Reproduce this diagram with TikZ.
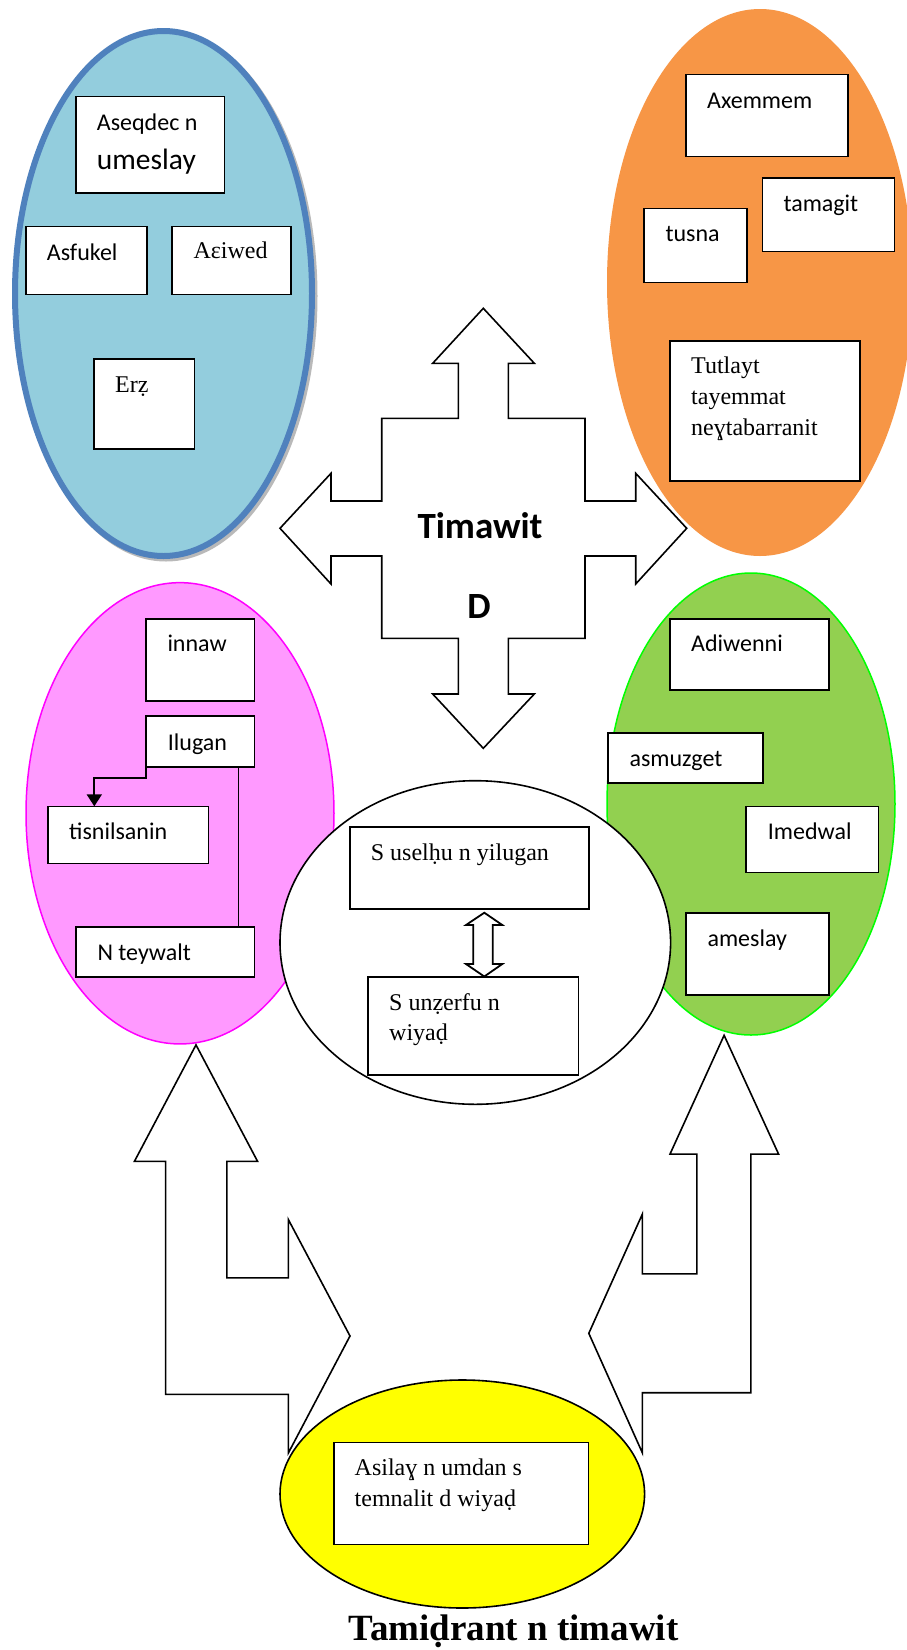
\documentclass[tikz,border=0pt]{standalone}
\usepackage{fontspec}
\setmainfont{Liberation Serif}
\newfontfamily\calfont{Carlito}
\usetikzlibrary{shapes.geometric,arrows.meta}
\definecolor{bluefill}{HTML}{93CDDD}
\definecolor{blueline}{HTML}{4F81BD}
\definecolor{orangefill}{HTML}{F79646}
\definecolor{pinkfill}{HTML}{FF99FF}
\definecolor{pinkline}{HTML}{FF00FF}
\definecolor{greenfill}{HTML}{92D050}
\definecolor{greenline}{HTML}{00FF00}
\definecolor{yellowfill}{HTML}{FFFF00}
\begin{document}
\begin{tikzpicture}[x=1pt,y=-1pt,
  blob/.style={ellipse, inner sep=0pt, outer sep=0pt},
  box/.style={draw=black, fill=white, line width=1.6pt, inner sep=0pt, outer sep=0pt, anchor=north west},
  cal/.style={font=\calfont\fontsize{24}{29}\selectfont, anchor=base west, inner sep=0pt},
  tms/.style={font=\fontsize{24}{31}\selectfont, anchor=base west, inner sep=0pt},
  blockarrow/.style={draw=black, fill=white, line width=1.6pt, line join=miter},
  conn/.style={draw=black, line width=2pt}]

\useasboundingbox (0,0) rectangle (906,1650);
\fill[white] (0,0) rectangle (906,1650);

% ellipses
\node[blob, fill=gray!55, minimum width=303pt, minimum height=531pt] (blueshadow) at (166,296) {};
\node[blob, draw=blueline, line width=6pt, fill=bluefill, minimum width=297pt, minimum height=525pt] (blue) at (163.5,293.5) {};
\node[blob, fill=orangefill, minimum width=306pt, minimum height=547pt] (orange) at (760,282.5) {};
\node[blob, draw=pinkline, line width=1.5pt, fill=pinkfill, minimum width=308pt, minimum height=461.3pt] (pink) at (180,813.3) {};
\node[blob, draw=greenline, line width=1.5pt, fill=greenfill, minimum width=288pt, minimum height=462pt] (green) at (751,804) {};

% cross arrow
\draw[blockarrow] (483.3,308.3) -- (534.3,363.3) -- (508.3,363.3) -- (508.3,418.3) -- (585,418.3) -- (585,501) -- (635.7,501) -- (635.7,473.3) -- (686.7,528.3) -- (635.7,584) -- (635.7,556) -- (585,556) -- (585,638.3) -- (508.3,638.3) -- (508.3,694) -- (534.3,694) -- (483.3,748.3) -- (432.7,694) -- (458.3,694) -- (458.3,638.3) -- (381.7,638.3) -- (381.7,556) -- (331,556) -- (331,584) -- (280,528.3) -- (331,473.3) -- (331,501) -- (381.7,501) -- (381.7,418.3) -- (458.3,418.3) -- (458.3,363.3) -- (432.7,363.3) -- cycle;

\node[blob, draw=black, line width=1.6pt, fill=white, minimum width=390.6pt, minimum height=323.6pt] (center) at (475.3,942.5) {};

% bottom arrows
\draw[blockarrow] (196,1044.9) -- (257.6,1161.4) -- (226.8,1161.4) -- (226.8,1277.8) -- (288.4,1277.8) -- (288.4,1219.6) -- (350,1336) -- (288.4,1452.9) -- (288.4,1394.3) -- (165.6,1394.3) -- (165.6,1161.4) -- (134.4,1161.4) -- cycle;
\draw[blockarrow] (724.1,1035.3) -- (778.6,1154.1) -- (750.9,1154.1) -- (750.9,1392.7) -- (642.4,1392.7) -- (642.4,1452.9) -- (588.8,1333.3) -- (642.4,1214) -- (642.4,1273.8) -- (696.9,1273.8) -- (696.9,1154.1) -- (670,1154.1) -- cycle;

\node[blob, draw=black, line width=1.6pt, fill=yellowfill, minimum width=364.6pt, minimum height=228pt] (yellow) at (462.3,1494) {};

% boxes
\node[box, minimum width=148.3pt, minimum height=96.3pt] (aseq) at (76,96.4) {};
\node[box, minimum width=121pt, minimum height=68pt] (asfu) at (25.7,226.5) {};
\node[box, minimum width=119pt, minimum height=68pt] (aeiw) at (171.7,226.5) {};
\node[box, minimum width=100.3pt, minimum height=90pt] (erz) at (94,359) {};
\node[box, minimum width=162pt, minimum height=82pt] (axem) at (686,74.5) {};
\node[box, minimum width=132pt, minimum height=73.6pt] (tama) at (762.3,178) {};
\node[box, minimum width=102.7pt, minimum height=74pt] (tusna) at (644,208.4) {};
\node[box, minimum width=190pt, minimum height=140pt] (tutl) at (670,340.7) {};
\node[box, minimum width=108.3pt, minimum height=81.7pt] (innaw) at (146,619) {};
\node[box, minimum width=108.3pt, minimum height=50.7pt] (ilugan) at (146,716) {};
\node[box, minimum width=160.3pt, minimum height=57pt] (tis) at (48,806.3) {};
\node[box, minimum width=178.3pt, minimum height=50pt] (teyw) at (76,926.7) {};
\node[box, minimum width=158.7pt, minimum height=71pt] (adiw) at (670,619) {};
\node[box, minimum width=154.7pt, minimum height=50pt] (asmu) at (608,732.7) {};
\node[box, minimum width=132.3pt, minimum height=66pt] (imed) at (746,806.3) {};
\node[box, minimum width=142.7pt, minimum height=82.3pt] (amesl) at (686,912.7) {};
\node[box, minimum width=238.7pt, minimum height=82pt] (usel) at (350,826.7) {};
\node[box, minimum width=210.3pt, minimum height=98.3pt] (unze) at (368,976.7) {};
\node[box, minimum width=254.4pt, minimum height=102pt] (asil) at (334,1442.5) {};

% texts
\node[cal] (t-aseq) at (96.7,130) {Aseqdec n};
\node[cal, font=\calfont\fontsize{29.5}{34}\selectfont] (t-umes) at (96.7,169) {umeslay};
\node[cal] (t-asfu) at (46.7,260) {Asfukel};
\node[tms] (t-aeiw) at (193.3,258) {Aεiwed};
\node[tms] (t-erz) at (115,392) {Erẓ};
\node[cal] (t-axem) at (707,108) {Axemmem};
\node[cal] (t-tama) at (783.3,211) {tamagit};
\node[cal] (t-tusna) at (665.3,241.8) {tusna};
\node[tms] (t-tutl) at (691,373.5) {\begin{tabular}[t]{@{}l@{}}Tutlayt\\tayemmat\\neɣtabarranit\end{tabular}};
\node[font=\calfont\bfseries\fontsize{37}{40}\selectfont, anchor=base, inner sep=0pt] (t-tima) at (480,538.3) {Timawit};
\node[font=\calfont\bfseries\fontsize{37}{40}\selectfont, anchor=base, inner sep=0pt] (t-d) at (479,618.3) {D};
\node[cal] (t-innaw) at (167.3,651.7) {innaw};
\node[cal] (t-ilugan) at (167.7,750) {Ilugan};
\node[cal] (t-tis) at (69,839.3) {tisnilsanin};
\node[cal] (t-teyw) at (97.3,960.7) {N teywalt};
\node[cal] (t-adiw) at (691,651.7) {Adiwenni};
\node[cal] (t-asmu) at (629.3,766) {asmuzget};
\node[cal] (t-imed) at (767.7,839.3) {Imedwal};
\node[cal] (t-amesl) at (707.3,946.7) {ameslay};
\node[tms] (t-usel) at (370.7,860) {S uselḥu n yilugan};
\node[tms, font=\fontsize{24}{30}\selectfont] (t-unze) at (389,1010) {\begin{tabular}[t]{@{}l@{}}S unẓerfu n\\wiyaḍ\end{tabular}};
\node[tms] (t-asil) at (354.5,1475.8) {\begin{tabular}[t]{@{}l@{}}Asilaɣ n umdan s\\temnalit d wiyaḍ\end{tabular}};
\node[font=\bfseries\fontsize{37}{40}\selectfont, anchor=base west, inner sep=0pt] (title) at (348.7,1640.5) {Tamiḍrant n timawit};

% connectors
\draw[conn, -{Triangle[length=12pt,width=15pt]}] ([yshift=18pt]ilugan.south west) -- ++(0,29) -| ([xshift=46.3pt]tis.north west);
\draw[line width=1.6pt] ([xshift=92.3pt]ilugan.south west) -- ([xshift=92.3pt]ilugan.south west |- teyw.north);

% double arrow between centre boxes
\draw[blockarrow, line width=1.8pt] (484.3,912.7) -- (502.3,925) -- (492.7,925) -- (492.7,964) -- (502.3,964) -- (484.3,976.5) -- (466,964) -- (473.3,964) -- (473.3,925) -- (466,925) -- cycle;
\end{tikzpicture}
\end{document}
